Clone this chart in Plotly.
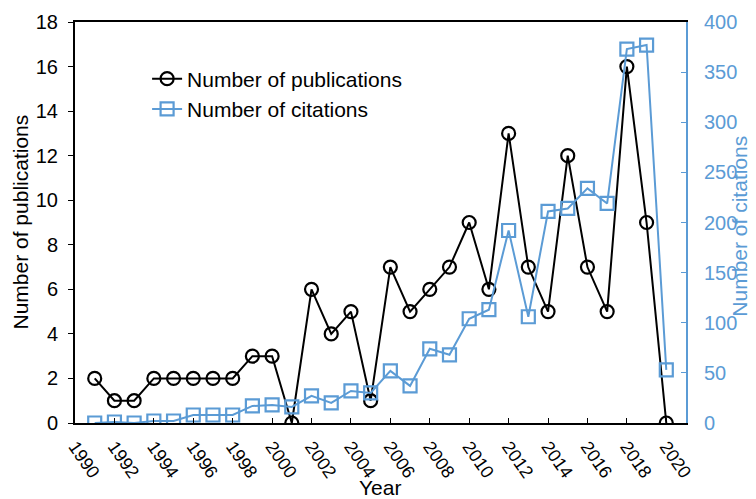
import plotly.graph_objects as go

# years covered by the chart
years = list(range(1991, 2021))

# number of publications per year (left axis)
publications = [2, 1, 1, 2, 2, 2, 2, 2, 3, 3,
                0, 6, 4, 5, 1, 7, 5, 6, 7, 9,
                6, 13, 7, 5, 12, 7, 5, 16, 9, 0]

# number of citations per year (right axis)
citations = [0, 1, 0, 2, 2, 8, 8, 8, 17, 18,
             16, 27, 20, 32, 30, 52, 37, 74, 68, 104,
             113, 192, 106, 211, 214, 234, 219, 373, 377, 53]

x_tick_vals = list(range(1990, 2021, 2))
blue = '#5B9BD5'

fig = go.Figure()

fig.add_trace(go.Scatter(
    x=years, y=publications, name='Number of publications',
    mode='lines+markers',
    line=dict(color='black', width=2),
    marker=dict(symbol='circle-open', size=13, color='black',
                line=dict(width=2.2, color='black'))))

fig.add_trace(go.Scatter(
    x=years, y=citations, name='Number of citations', yaxis='y2',
    mode='lines+markers',
    line=dict(color=blue, width=2),
    marker=dict(symbol='square-open', size=13, color=blue,
                line=dict(width=2.2, color=blue))))

# the page body adds an 8px margin, so the figure is sized to fill what is left
fig.update_layout(
    width=748, height=491,
    margin=dict(l=67, r=70, t=14, b=76),
    paper_bgcolor='white',
    plot_bgcolor='white',
    font=dict(family='Liberation Sans, Arial, sans-serif', size=20, color='black'),
    showlegend=True,
    legend=dict(x=0.118, y=0.909, xanchor='left', yanchor='top',
                bgcolor='rgba(0,0,0,0)', font=dict(size=21),
                tracegroupgap=0),
    xaxis=dict(
        range=[1990, 2021], tickvals=x_tick_vals, tickangle=55,
        showgrid=False, zeroline=False, automargin=False,
        showline=True, linecolor='black', linewidth=2, mirror=True,
        ticks='inside', ticklen=5, tickcolor='black',
        ticklabelstandoff=4,
        tickfont=dict(size=18)),
    yaxis=dict(
        range=[0, 18], dtick=2,
        showgrid=False, zeroline=False, automargin=False,
        showline=True, linecolor='black', linewidth=2,
        ticks='outside', ticklen=5, tickcolor='black',
        ticklabelstandoff=6,
        tickfont=dict(size=20)),
    yaxis2=dict(
        range=[0, 400], dtick=50, overlaying='y', side='right',
        showgrid=False, zeroline=False, automargin=False,
        showline=True, linecolor=blue, linewidth=2,
        ticks='inside', ticklen=5, tickcolor=blue,
        ticklabelstandoff=12,
        tickfont=dict(size=20, color=blue)),
    annotations=[
        dict(text='Year', xref='paper', yref='paper', x=0.499, y=-0.16,
             xanchor='center', yanchor='middle', showarrow=False,
             font=dict(size=21)),
        dict(text='Number of publications', xref='paper', yref='paper',
             x=-0.09, y=0.5, textangle=-90, xanchor='center',
             yanchor='middle', showarrow=False, font=dict(size=21)),
        dict(text='Number of citations', xref='paper', yref='paper',
             x=1.087, y=0.49, textangle=-90, xanchor='center',
             yanchor='middle', showarrow=False,
             font=dict(size=21, color=blue)),
    ],
)

fig.write_html("out.html")
